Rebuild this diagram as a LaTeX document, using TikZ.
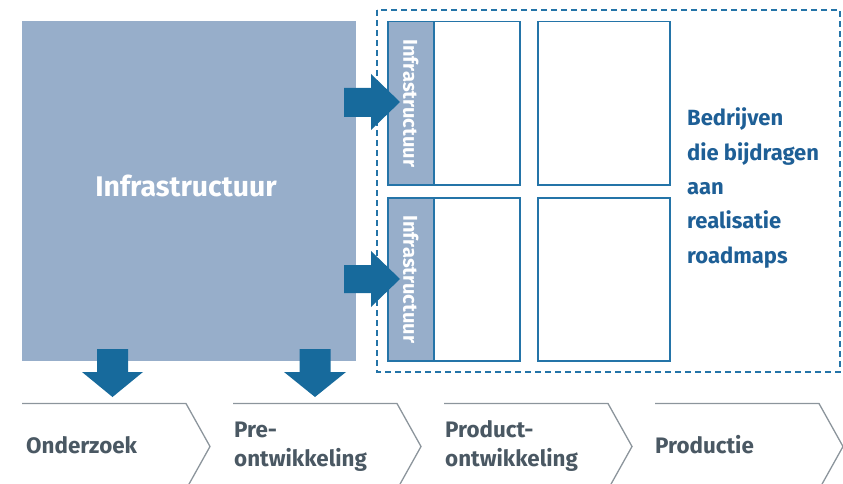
\documentclass[tikz,border=0pt]{standalone}
\usepackage{fontspec}
\setmainfont{Fira Sans}
\definecolor{boxfill}{HTML}{97AECA}
\definecolor{arrowblue}{HTML}{176A9C}
\definecolor{borderblue}{HTML}{2474A8}
\definecolor{txtblue}{HTML}{1E5F96}
\definecolor{txtgray}{HTML}{4A5863}
\definecolor{chevgray}{HTML}{8C959C}
\tikzset{
  bigbox/.style={fill=boxfill, draw=none, minimum width=334pt, minimum height=340pt, inner sep=0pt},
  cellbox/.style={draw=borderblue, line width=1.5pt, fill=white, inner sep=0pt},
  stripbox/.style={draw=borderblue, line width=1.5pt, fill=boxfill, inner sep=0pt},
  blockarrow/.style={fill=arrowblue, draw=none},
  chevron/.style={draw=chevgray, line width=1.3pt},
  phase/.style={text=txtgray, font=\bfseries\fontsize{22.4}{29}\selectfont, anchor=base west, align=left, inner sep=0pt},
  striptext/.style={text=white, font=\bfseries\fontsize{20}{20}\selectfont, rotate=-90, inner sep=0pt},
}
\begin{document}
\begin{tikzpicture}[x=1pt,y=-1pt]
\useasboundingbox (0,0) rectangle (843,484);
% big infrastructure block
\node[bigbox, anchor=north west] (big) at (22,21) {};
\node[text=white, font=\bfseries\fontsize{28.4}{30}\selectfont, anchor=base, inner sep=0pt] (bigtxt) at (186,196) {Infrastructuur};
% dashed region
\draw[borderblue, line width=1.5pt, dash pattern=on 6pt off 4pt] (377,10) rectangle (840,372);
% cells
\node[cellbox, anchor=north west, minimum width=132pt, minimum height=163pt] (c1) at (387,21) {};
\node[stripbox, anchor=north west, minimum width=46pt, minimum height=163pt] (s1) at (387,21) {};
\node[cellbox, anchor=north west, minimum width=132pt, minimum height=163pt] (c2) at (537,21) {};
\node[cellbox, anchor=north west, minimum width=132pt, minimum height=163pt] (c3) at (387,197) {};
\node[stripbox, anchor=north west, minimum width=46pt, minimum height=163pt] (s2) at (387,197) {};
\node[cellbox, anchor=north west, minimum width=132pt, minimum height=163pt] (c4) at (537,197) {};
\node[striptext] (st1) at (s1.center) {Infrastructuur};
\node[striptext] (st2) at (s2.center) {Infrastructuur};
% right arrows
\fill[blockarrow] (344,88) -- (371,88) -- (371,74) -- (400,102) -- (371,130) -- (371,117) -- (344,117) -- cycle;
\fill[blockarrow] (344,265) -- (371,265) -- (371,251) -- (400,279) -- (371,307) -- (371,293) -- (344,293) -- cycle;
% down arrows
\fill[blockarrow] (97,349) -- (128,349) -- (128,372) -- (143,372) -- (112.5,397) -- (82,372) -- (97,372) -- cycle;
\fill[blockarrow] (299.5,349) -- (330.5,349) -- (330.5,372) -- (346,372) -- (315,397) -- (284,372) -- (299.5,372) -- cycle;
% text right
\node[text=txtblue, font=\bfseries\fontsize{22}{34.3}\selectfont, anchor=base west, align=left, inner sep=0pt] (roadtxt) at (687,263) {Bedrijven\\die bijdragen\\aan\\realisatie\\roadmaps};
% chevrons
\foreach \sx/\nm in {22/ch1, 233/ch2, 444/ch3, 655/ch4} {
  \draw[chevron] (\sx,403.5) -- ++(164,0) -- ++(24,43) -- ++(-24,43);
}
\coordinate (p1) at (26,453);
\coordinate (p2) at (234,466);
\coordinate (p3) at (445,466);
\coordinate (p4) at (655,453);
\node[phase] (ph1) at (p1) {Onderzoek};
\node[phase] (ph2) at (p2) {Pre-\\ontwikkeling};
\node[phase] (ph3) at (p3) {Product-\\ontwikkeling};
\node[phase] (ph4) at (p4) {Productie};
\end{tikzpicture}
\end{document}
